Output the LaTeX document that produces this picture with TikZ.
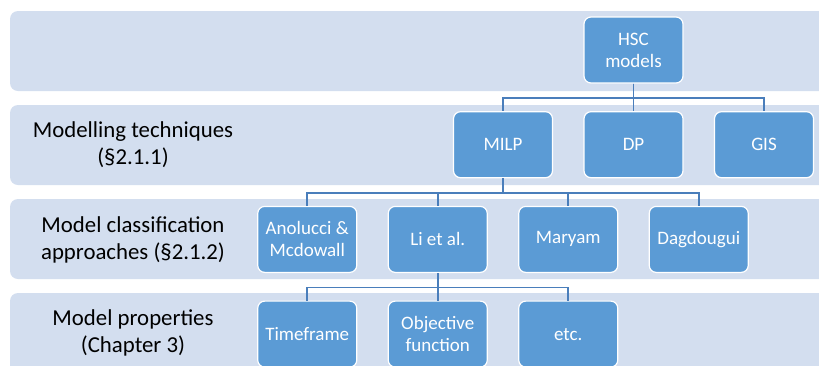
\documentclass[tikz,border=0pt]{standalone}
\usepackage{fontspec}
\setmainfont{Carlito}
\definecolor{bandfill}{HTML}{D3DEEF}
\definecolor{boxfill}{HTML}{5B9BD5}
\definecolor{linkcol}{HTML}{4A7EBB}

\begin{document}
\begin{tikzpicture}[
        x                       = 1pt,
        y                       = 1pt,
        grow                    = down,
        level distance          = 94.7pt,
        sibling distance        = 130.5pt,
        box/.style              = {draw=white, line width=1.2pt, fill=boxfill, rounded corners=7pt,
                                   minimum width=99pt, minimum height=66pt, inner sep=0pt,
                                   text=white, align=center, font=\fontsize{19}{22}\selectfont},
        rowlabel/.style         = {align=center, font=\fontsize{22.8}{26.5}\selectfont},
        band/.style             = {fill=bandfill, rounded corners=8pt},
        edge from parent/.style = {draw, linkcol, line width=1.8pt,
                                   edge from parent path={(\tikzparentnode.south) -- ++(0,-14.5) -| (\tikzchildnode.north)}},
      ]
    \useasboundingbox (0,0) rectangle (819,-365);
    \clip (0,0) rectangle (819,-365);
    % rows
    \fill[band] (10,-11)  rectangle (840,-91);
    \fill[band] (10,-105) rectangle (840,-185);
    \fill[band] (10,-199) rectangle (840,-279);
    \fill[band] (10,-293) rectangle (840,-380);
    \node[rowlabel] (techniques) at (133,-144.5) {Modelling techniques\\(§2.1.1)};
    \node[rowlabel] (approaches) at (133,-240) {Model classification\\approaches (§2.1.2)};
    \node[rowlabel] (properties) at (133,-333) {Model properties\\(Chapter 3)};
    % tree
    \node[box] (hsc) at (633.5,-50) {HSC\\models}
        child{ node[box] (milp) {MILP}
            child{ node[box] (anolucci) {Anolucci \&\\Mcdowall} }
            child{ node[box] (li) {Li et al.}
                child{ node[box] (timeframe) {Timeframe} }
                child{ node[box] (objective) {Objective\\function} }
                child{ node[box] (etc) {etc.} }
            }
            child{ node[box] (maryam) {Maryam} }
            child{ node[box] (dagdougui) {Dagdougui} }
        }
        child{ node[box] (dp) {DP} }
        child{ node[box] (gis) {GIS} };
\end{tikzpicture}
\end{document}
